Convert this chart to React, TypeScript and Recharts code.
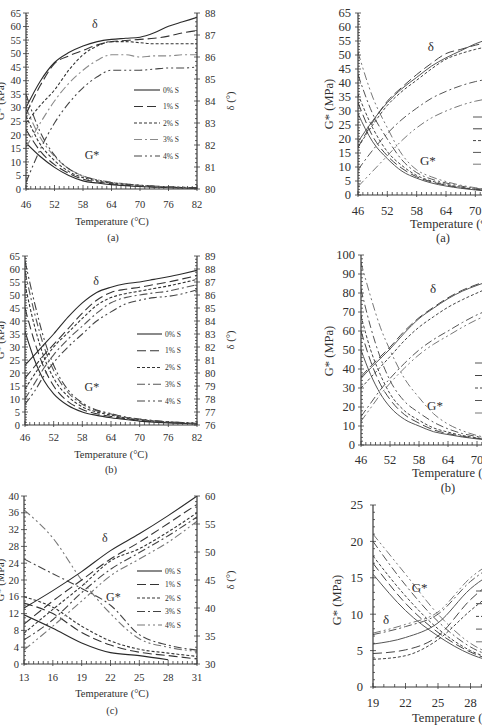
import React from 'react';
import { LineChart, Line, XAxis, YAxis, Legend, ReferenceDot, Label } from 'recharts';

const FONT = '"Liberation Serif", "Times New Roman", serif';
const TXT = '#2f2f2f';
const AXIS = '#3a3a3a';

const sulfurLabels = ['0% S', '1% S', '2% S', '3% S', '4% S'];
const dashes = ['', '9 4', '3 2', '8 3 2 3', '8 3 2 3 2 3'];

// ---------- Panel (a), left: G* (kPa) and δ (°) vs temperature ----------
const tempsAL = [46, 49, 52, 55, 58, 61, 64, 67, 70, 73, 76, 79, 82];
const gStarAL = [
  [17, 12, 8, 5, 3, 2.2, 1.6, 1.2, 0.9, 0.7, 0.5, 0.4, 0.3],
  [22, 14, 9, 5.8, 3.6, 2.6, 1.9, 1.4, 1.1, 0.8, 0.6, 0.5, 0.4],
  [27, 16.5, 10.5, 6.5, 4.2, 3.0, 2.2, 1.7, 1.3, 1.0, 0.7, 0.5, 0.4],
  [30, 19, 12, 7.5, 4.8, 3.4, 2.5, 1.9, 1.4, 1.1, 0.8, 0.6, 0.5],
  [35, 21, 12.5, 7.5, 4.8, 3.3, 2.4, 1.8, 1.4, 1.1, 0.8, 0.6, 0.5],
];
const deltaAL = [
  [83.7, 84.9, 85.75, 86.2, 86.5, 86.7, 86.8, 86.85, 86.9, 87.1, 87.4, 87.6, 87.8],
  [83.4, 84.7, 85.7, 86.05, 86.3, 86.55, 86.7, 86.75, 86.8, 86.85, 86.95, 87.1, 87.2],
  [83.0, 83.8, 84.5, 85.4, 86.1, 86.5, 86.7, 86.7, 86.65, 86.6, 86.6, 86.6, 86.6],
  [81.9, 83.0, 84.0, 84.8, 85.4, 85.85, 86.1, 86.1, 86.0, 86.05, 86.05, 86.1, 86.1],
  [80.3, 81.8, 83.0, 83.9, 84.6, 85.1, 85.4, 85.4, 85.4, 85.45, 85.5, 85.5, 85.55],
];

// ---------- Panel (b), left ----------
const tempsBL = [46, 48, 50, 52, 55, 58, 61, 64, 67, 70, 73, 76, 79, 82];
const gStarBL = [
  [36, 25, 17, 12, 7.5, 5, 3.7, 2.8, 2.1, 1.5, 1.1, 0.8, 0.6, 0.4],
  [45, 32, 22, 15, 9, 6, 4.3, 3.3, 2.4, 1.8, 1.3, 1.0, 0.7, 0.5],
  [54, 38, 26, 18, 11, 7, 5, 3.8, 2.7, 2.0, 1.5, 1.1, 0.8, 0.6],
  [59, 43, 30, 21, 12.5, 8, 5.5, 4.2, 3.0, 2.2, 1.6, 1.2, 0.9, 0.6],
  [63, 47, 33, 23, 13.5, 8.5, 5.8, 4.4, 3.1, 2.3, 1.7, 1.2, 0.9, 0.6],
];
const deltaBL = [
  [80.6, 81.4, 82.2, 83.0, 84.3, 85.4, 86.2, 86.6, 86.86, 87.0, 87.2, 87.4, 87.64, 87.9],
  [79.6, 80.5, 81.4, 82.2, 83.4, 84.6, 85.6, 86.2, 86.44, 86.6, 86.8, 87.0, 87.24, 87.5],
  [78.8, 79.9, 81.0, 82.0, 83.1, 84.2, 85.2, 85.8, 86.1, 86.3, 86.5, 86.7, 86.94, 87.2],
  [78.0, 79.2, 80.4, 81.4, 82.6, 83.6, 84.6, 85.4, 85.8, 86.0, 86.16, 86.3, 86.54, 86.8],
  [77.6, 78.6, 79.8, 80.8, 82.0, 83.0, 84.0, 84.7, 85.3, 85.6, 85.8, 85.9, 86.1, 86.4],
];

// ---------- Panel (c), left ----------
const tempsCL = [13, 16, 19, 22, 25, 28, 31];
const gStarCL = [
  [11.7, 8.5, 5, 2.7, 2, 1, null],
  [14.5, 12, 7.5, 4.5, 2.8, 2, 1.2],
  [16, 13.5, 9, 5.5, 3.5, 2.6, 1.8],
  [25, 21.5, 18, 14, 7, 4.5, 3.3],
  [36.7, 30, 20, 12, 6, 4, 3],
];
const deltaCL = [
  [40, 43.1, 46.5, 50.25, 53.25, 56.5, 60],
  [37.1, 41.25, 45, 48.75, 51.75, 55.1, 58.5],
  [35.5, 39.75, 43.9, 48.4, 50.6, 53.6, 57],
  [34.3, 37.9, 42.75, 46.9, 49.9, 52.9, 56.25],
  [32.5, 36.75, 41.25, 45.75, 48.75, 51.75, 55.5],
];

// ---------- Panel (a), right ----------
const tempsAR = [46, 49, 52, 55, 58, 61, 64, 67, 70, 76, 82];
const gStarAR = [
  [29, 19, 13, 8.5, 6, 4.3, 3.2, 2.4, 1.8, 1, 0.6],
  [33, 21, 14, 9.5, 6.5, 4.7, 3.5, 2.6, 2, 1.1, 0.6],
  [36, 24, 15.5, 10.5, 7, 5, 3.8, 2.8, 2.1, 1.2, 0.7],
  [43, 29, 20, 12.5, 8, 5.7, 4.3, 3.2, 2.4, 1.3, 0.7],
  [51, 35, 24, 14.5, 9, 6.5, 4.8, 3.5, 2.6, 1.4, 0.8],
];
const deltaAR = [
  [19, 26.5, 33, 38, 42, 46, 49, 51.5, 54, 57, 59],
  [17, 26, 33.5, 38.5, 43, 47, 50.5, 52, 53.5, 55.5, 57],
  [17, 25, 32, 37, 41, 45, 48.5, 50.5, 52, 54, 55.5],
  [9, 16, 22, 27, 31, 34.5, 37, 39, 40.5, 42, 43],
  [3, 8.5, 14, 19.5, 24, 27.5, 30, 32, 33.5, 35, 36],
];

// ---------- Panel (b), right ----------
const tempsBR = [46, 48, 50, 52, 55, 58, 61, 64, 67, 70, 76, 82];
const gStarBR = [
  [50, 37, 27, 20, 13.5, 10, 7, 5.5, 4.2, 3.2, 2, 1.3],
  [60, 44, 32, 24, 16, 11.5, 8, 6, 4.6, 3.5, 2.2, 1.4],
  [68, 50, 37, 27, 18, 13, 9, 6.8, 5, 3.8, 2.4, 1.5],
  [82, 62, 46, 34, 23, 17, 12, 8.5, 6, 4.5, 2.7, 1.7],
  [96, 78, 62, 50, 35, 25, 16.5, 11, 7.5, 5, 3, 1.8],
];
const deltaBR = [
  [35, 40.5, 45.5, 50.5, 59, 66.5, 72, 77, 81, 84, 89, 92],
  [36, 41.5, 46.5, 51.5, 60, 67, 72.5, 77.5, 81.5, 84.5, 89, 92],
  [30, 35.5, 41, 46.5, 55, 62, 67.5, 72.5, 76.5, 80, 86, 89],
  [15, 22, 29, 35, 43, 50, 55.5, 60, 64.5, 68.5, 74, 78],
  [12.5, 19.5, 26.5, 32.5, 40.5, 47.5, 53, 57.5, 62, 66, 71.5, 75.5],
];

// ---------- Panel (c), right ----------
const tempsCR = [19, 22, 25, 28, 31, 34];
const gStarCR = [
  [15.5, 10.5, 7, 4.5, 3.2, 2.5],
  [17, 11.5, 7.5, 4.8, 3.3, 2.6],
  [18, 12.5, 8, 5, 3.5, 2.7],
  [20, 14, 9, 5.5, 3.8, 2.9],
  [21, 15.5, 10, 6, 4, 3],
];
const deltaCR = [
  [5.9, 6.8, 8.8, 13.5, 16.5, 19],
  [4.6, 5.1, 7, 12, 15.5, 18],
  [3.8, 4.3, 6.5, 10.5, 14, 17],
  [7.2, 8.3, 10, 14.5, 17.5, 20],
  [7.4, 8.6, 10.3, 15, 18, 20.5],
];

const range = (a: number, b: number, step: number) => {
  const out: number[] = [];
  const n = Math.round((b - a) / step);
  for (let i = 0; i <= n; i++) out.push(Math.round((a + i * step) * 1000) / 1000);
  return out;
};

type Series = (number | null)[];
interface PanelCfg {
  left: number; top: number; width: number; height: number;
  plotL: number; plotR: number; plotT: number; plotB: number;
  temps: number[]; gStar: Series[]; delta: Series[];
  xDomain: [number, number]; xMajor: number[]; xMinor: number[];
  gDomain: [number, number]; gMajor: number[]; gMinor: number[];
  dDomain?: [number, number]; dMajor?: number[]; dMinor?: number[];
  tickFont: number; titleFont: number;
  xTickY: number; yTickX: number; dTickX?: number;
  xTitle: { x: number; y: number };
  caption?: { text: string; x: number; y: number };
  gTitle: { text: string; x: number; y: number };
  dTitle?: { x: number; y: number };
  legend: { x: number; y: number; dy: number; len: number; font: number };
  annDelta: [number, number]; annG: [number, number]; annFont: number;
  colors: string[]; lineWidth: number;
}

const isMaj = (arr: number[], v: number) => arr.some((m) => Math.abs(m - v) < 1e-6);

function Panel({ c }: { c: PanelCfg }) {
  const data = c.temps.map((t, i) => {
    const row: Record<string, number | null> = { t };
    c.gStar.forEach((s, k) => (row['g' + k] = s[i] ?? null));
    c.delta.forEach((s, k) => (row['d' + k] = s[i] ?? null));
    return row;
  });
  const L = (x: number) => x - c.left;
  const T = (y: number) => y - c.top;
  const hasD = !!c.dDomain;
  const leftW = c.plotL - c.left;
  const rightW = c.left + c.width - c.plotR;
  const xH = c.top + c.height - c.plotB;
  const xTicks = Array.from(new Set([...c.xMajor, ...c.xMinor])).sort((a, b) => a - b);
  const gTicks = Array.from(new Set([...c.gMajor, ...c.gMinor])).sort((a, b) => a - b);
  const dTicks = hasD ? Array.from(new Set([...(c.dMajor || []), ...(c.dMinor || [])])).sort((a, b) => a - b) : [];

  const xTick = (p: any) => {
    const v = p.payload.value;
    const maj = isMaj(c.xMajor, v);
    return (
      <g>
        <line x1={p.x} x2={p.x} y1={p.y + (maj ? 2 : 0)} y2={p.y - (maj ? 4 : 3)} stroke={AXIS} strokeWidth={0.8} />
        {maj && (
          <text x={p.x} y={T(c.xTickY)} textAnchor="middle" fontSize={c.tickFont} fontFamily={FONT} fill={TXT}>
            {v}
          </text>
        )}
      </g>
    );
  };
  const gTick = (p: any) => {
    const v = p.payload.value;
    const maj = isMaj(c.gMajor, v);
    return (
      <g>
        <line x1={p.x - (maj ? 3 : 0)} x2={p.x + (maj ? 3 : 2)} y1={p.y} y2={p.y} stroke={AXIS} strokeWidth={0.8} />
        {maj && (
          <text x={L(c.yTickX)} y={p.y} dy="0.35em" textAnchor="end" fontSize={c.tickFont} fontFamily={FONT} fill={TXT}>
            {v}
          </text>
        )}
      </g>
    );
  };
  const dTick = (p: any) => {
    const v = p.payload.value;
    const maj = isMaj(c.dMajor || [], v);
    return (
      <g>
        <line x1={p.x - (maj ? 3 : 2)} x2={p.x + (maj ? 3 : 0)} y1={p.y} y2={p.y} stroke={AXIS} strokeWidth={0.8} />
        {maj && (
          <text x={L(c.dTickX || 0)} y={p.y} dy="0.35em" textAnchor="start" fontSize={c.tickFont} fontFamily={FONT} fill={TXT}>
            {v}
          </text>
        )}
      </g>
    );
  };

  const lg = c.legend;
  const legendBox = (
    <svg width={110} height={lg.dy * 5 + 12} style={{ overflow: 'visible', display: 'block' }}>
      {sulfurLabels.map((s, k) => (
        <g key={s}>
          <line x1={0} x2={lg.len} y1={6 + k * lg.dy} y2={6 + k * lg.dy} stroke={c.colors[k]} strokeWidth={c.lineWidth} strokeDasharray={dashes[k] || undefined} />
          <text x={lg.len + 3} y={6 + k * lg.dy} dy="0.35em" fontSize={lg.font} fontFamily={FONT} fill={TXT}>
            {s}
          </text>
        </g>
      ))}
    </svg>
  );

  return (
    <LineChart
      width={c.width}
      height={c.height}
      data={data}
      margin={{ top: c.plotT - c.top, right: hasD ? 0 : rightW, bottom: 0, left: 0 }}
    >
      <XAxis
        xAxisId="b"
        dataKey="t"
        type="number"
        domain={c.xDomain}
        allowDataOverflow
        ticks={xTicks}
        interval={0}
        tickLine={false}
        tickSize={0}
        tickMargin={0}
        height={xH}
        axisLine={{ stroke: AXIS, strokeWidth: 1.2 }}
        tick={xTick}
      >
        <Label
          content={() => (
            <g>
              <text x={L(c.xTitle.x)} y={T(c.xTitle.y)} textAnchor="middle" fontSize={c.titleFont} fontFamily={FONT} fill={TXT}>
                Temperature (°C)
              </text>
              {c.caption && (
                <text x={L(c.caption.x)} y={T(c.caption.y)} textAnchor="middle" fontSize={c.titleFont} fontFamily={FONT} fill={TXT}>
                  {c.caption.text}
                </text>
              )}
            </g>
          )}
        />
      </XAxis>
      <XAxis
        xAxisId="top"
        orientation="top"
        type="number"
        domain={c.xDomain}
        allowDataOverflow
        height={0}
        tick={false}
        tickLine={false}
        axisLine={{ stroke: AXIS, strokeWidth: 1.2 }}
      />
      <YAxis
        yAxisId="g"
        type="number"
        domain={c.gDomain}
        allowDataOverflow
        ticks={gTicks}
        interval={0}
        tickLine={false}
        tickSize={0}
        tickMargin={0}
        width={leftW}
        axisLine={{ stroke: AXIS, strokeWidth: 1.2 }}
        tick={gTick}
      >
        <Label
          content={() => (
            <text
              x={L(c.gTitle.x)}
              y={T(c.gTitle.y)}
              transform={`rotate(-90 ${L(c.gTitle.x)} ${T(c.gTitle.y)})`}
              textAnchor="middle"
              fontSize={c.titleFont}
              fontFamily={FONT}
              fill={TXT}
            >
              {c.gTitle.text}
            </text>
          )}
        />
      </YAxis>
      {hasD && (
        <YAxis
          yAxisId="d"
          orientation="right"
          type="number"
          domain={c.dDomain}
          allowDataOverflow
          ticks={dTicks}
          interval={0}
          tickLine={false}
          tickSize={0}
          tickMargin={0}
          width={rightW}
          axisLine={{ stroke: AXIS, strokeWidth: 1.2 }}
          tick={dTick}
        >
          <Label
            content={() =>
              c.dTitle ? (
                <text
                  x={L(c.dTitle.x)}
                  y={T(c.dTitle.y)}
                  transform={`rotate(-90 ${L(c.dTitle.x)} ${T(c.dTitle.y)})`}
                  textAnchor="middle"
                  fontSize={c.titleFont}
                  fontFamily={FONT}
                  fill={TXT}
                >
                  δ (°)
                </text>
              ) : null
            }
          />
        </YAxis>
      )}
      {c.gStar.map((_, k) => (
        <Line
          key={'g' + k}
          xAxisId="b"
          yAxisId="g"
          dataKey={'g' + k}
          name={sulfurLabels[k]}
          type="monotone"
          stroke={c.colors[k]}
          strokeWidth={c.lineWidth}
          strokeDasharray={dashes[k] || undefined}
          dot={false}
          activeDot={false}
          isAnimationActive={false}
        />
      ))}
      {c.delta.map((_, k) => (
        <Line
          key={'d' + k}
          xAxisId="b"
          yAxisId={hasD ? 'd' : 'g'}
          dataKey={'d' + k}
          name={'δ ' + sulfurLabels[k]}
          legendType="none"
          type="monotone"
          stroke={c.colors[k]}
          strokeWidth={c.lineWidth}
          strokeDasharray={dashes[k] || undefined}
          dot={false}
          activeDot={false}
          isAnimationActive={false}
        />
      ))}
      <ReferenceDot
        xAxisId="b"
        yAxisId="g"
        x={c.annDelta[0]}
        y={c.annDelta[1]}
        r={0}
        fill="none"
        stroke="none"
        label={{ value: 'δ', position: 'center', fontSize: c.annFont, fontFamily: FONT, fill: TXT }}
      />
      <ReferenceDot
        xAxisId="b"
        yAxisId="g"
        x={c.annG[0]}
        y={c.annG[1]}
        r={0}
        fill="none"
        stroke="none"
        label={{ value: 'G*', position: 'center', fontSize: c.annFont, fontFamily: FONT, fill: TXT }}
      />
      <Legend
        layout="vertical"
        align="center"
        verticalAlign="middle"
        wrapperStyle={{ left: L(lg.x), top: T(lg.y) - 6, width: 110, height: lg.dy * 5 + 12 }}
        content={() => legendBox}
      />
    </LineChart>
  );
}

const leftColors = ['#2a2a2a', '#333', '#333', '#555', '#444'];
const leftColorsA = ['#2a2a2a', '#333', '#333', '#8a8a8a', '#444'];
const leftColorsC = ['#2a2a2a', '#333', '#333', '#444', '#777'];
const rightColors = ['#555', '#444', '#444', '#555', '#777'];

const panels: PanelCfg[] = [
  {
    left: 0, top: 0, width: 240, height: 245, plotL: 26, plotR: 197, plotT: 13, plotB: 189,
    temps: tempsAL, gStar: gStarAL, delta: deltaAL,
    xDomain: [46, 82], xMajor: range(46, 82, 6), xMinor: range(46, 82, 1),
    gDomain: [0, 65], gMajor: range(0, 65, 5), gMinor: range(0, 65, 1),
    dDomain: [80, 88], dMajor: range(80, 88, 1), dMinor: range(80, 88, 0.2),
    tickFont: 10.5, titleFont: 10.5, xTickY: 207.5, yTickX: 21, dTickX: 205,
    xTitle: { x: 112, y: 224.5 }, caption: { text: '(a)', x: 113, y: 241 },
    gTitle: { text: 'G* (kPa)', x: 4, y: 101 }, dTitle: { x: 234, y: 101 },
    legend: { x: 134, y: 90, dy: 16.5, len: 26, font: 7.5 },
    annDelta: [60.5, 61], annG: [59.9, 12.6], annFont: 12,
    colors: leftColorsA, lineWidth: 1.1,
  },
  {
    left: 0, top: 240, width: 240, height: 245, plotL: 25, plotR: 197, plotT: 256, plotB: 425,
    temps: tempsBL, gStar: gStarBL, delta: deltaBL,
    xDomain: [46, 82], xMajor: range(46, 82, 6), xMinor: range(46, 82, 1),
    gDomain: [0, 65], gMajor: range(0, 65, 5), gMinor: range(0, 65, 1),
    dDomain: [76, 89], dMajor: range(76, 89, 1), dMinor: range(76, 89, 0.25),
    tickFont: 10.5, titleFont: 10.5, xTickY: 440.5, yTickX: 20, dTickX: 205,
    xTitle: { x: 111, y: 457.5 }, caption: { text: '(b)', x: 111, y: 473 },
    gTitle: { text: 'G* (kPa)', x: 4, y: 340 }, dTitle: { x: 234, y: 340 },
    legend: { x: 137, y: 334, dy: 16.75, len: 25, font: 7.5 },
    annDelta: [60.9, 55.4], annG: [60, 14.6], annFont: 12,
    colors: leftColors, lineWidth: 1.1,
  },
  {
    left: 0, top: 480, width: 240, height: 245, plotL: 24, plotR: 197, plotT: 496, plotB: 664,
    temps: tempsCL, gStar: gStarCL, delta: deltaCL,
    xDomain: [13, 31], xMajor: range(13, 31, 3), xMinor: range(13, 31, 0.5),
    gDomain: [0, 40], gMajor: range(0, 40, 4), gMinor: range(0, 40, 1),
    dDomain: [30, 60], dMajor: range(30, 60, 5), dMinor: range(30, 60, 1),
    tickFont: 10.5, titleFont: 10.5, xTickY: 680.5, yTickX: 19, dTickX: 205,
    xTitle: { x: 112, y: 696.5 }, caption: { text: '(c)', x: 112, y: 713.5 },
    gTitle: { text: 'G* (MPa)', x: 4, y: 580 }, dTitle: { x: 234, y: 580 },
    legend: { x: 137, y: 571, dy: 13.5, len: 25, font: 7.5 },
    annDelta: [21.4, 30], annG: [22.3, 16], annFont: 12,
    colors: leftColorsC, lineWidth: 1.1,
  },
  {
    left: 300, top: 0, width: 290, height: 245, plotL: 358, plotR: 534, plotT: 13, plotB: 195,
    temps: tempsAR, gStar: gStarAR, delta: deltaAR,
    xDomain: [46, 82], xMajor: range(46, 82, 6), xMinor: range(46, 82, 1),
    gDomain: [0, 65], gMajor: range(0, 65, 5), gMinor: range(0, 65, 1),
    tickFont: 12.5, titleFont: 12.5, xTickY: 215, yTickX: 351,
    xTitle: { x: 454, y: 228 }, caption: { text: '(a)', x: 443, y: 241.5 },
    gTitle: { text: 'G* (MPa)', x: 332.5, y: 104 },
    legend: { x: 473, y: 117, dy: 11.8, len: 26, font: 9 },
    annDelta: [60.9, 52.9], annG: [60.3, 12.5], annFont: 13,
    colors: rightColors, lineWidth: 1.0,
  },
  {
    left: 300, top: 240, width: 290, height: 255, plotL: 361, plotR: 535, plotT: 255, plotB: 445,
    temps: tempsBR, gStar: gStarBR, delta: deltaBR,
    xDomain: [46, 82], xMajor: range(46, 82, 6), xMinor: range(46, 82, 1),
    gDomain: [0, 100], gMajor: range(0, 100, 10), gMinor: range(0, 100, 2),
    tickFont: 12.5, titleFont: 12.5, xTickY: 464, yTickX: 355,
    xTitle: { x: 456, y: 477 }, caption: { text: '(b)', x: 448, y: 491.5 },
    gTitle: { text: 'G* (MPa)', x: 332.5, y: 351 },
    legend: { x: 475, y: 363, dy: 12.5, len: 26, font: 9 },
    annDelta: [60.9, 82.6], annG: [61.3, 21], annFont: 13,
    colors: rightColors, lineWidth: 1.0,
  },
  {
    left: 300, top: 480, width: 290, height: 245, plotL: 373, plotR: 535.5, plotT: 505, plotB: 687,
    temps: tempsCR, gStar: gStarCR, delta: deltaCR,
    xDomain: [19, 34], xMajor: range(19, 34, 3), xMinor: range(19, 34, 1),
    gDomain: [0, 25], gMajor: range(0, 25, 5), gMinor: range(0, 25, 1),
    tickFont: 12.5, titleFont: 12.5, xTickY: 706.5, yTickX: 363,
    xTitle: { x: 456, y: 721.5 },
    gTitle: { text: 'G* (MPa)', x: 341, y: 600 },
    legend: { x: 476, y: 591, dy: 12.7, len: 26, font: 9 },
    annDelta: [20.2, 9.3], annG: [23.3, 13.7], annFont: 13,
    colors: rightColors, lineWidth: 1.0,
  },
];

export default function App() {
  return (
    <div style={{ position: 'absolute', left: 0, top: 0, width: 482, height: 725, overflow: 'hidden', background: '#fff' }}>
      {panels.map((p, i) => (
        <div key={i} style={{ position: 'absolute', left: p.left, top: p.top, width: p.width, height: p.height }}>
          <Panel c={p} />
        </div>
      ))}
    </div>
  );
}
